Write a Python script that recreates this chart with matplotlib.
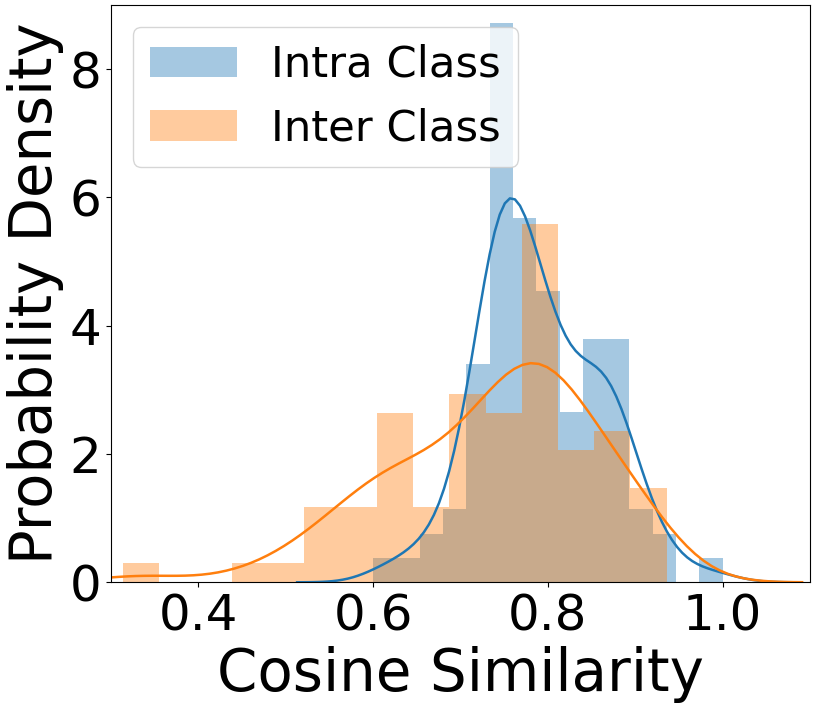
import numpy as np
import matplotlib
matplotlib.use("Agg")
import matplotlib.pyplot as plt

# ---- data ----
intra_range = (0.600, 1.000)           # histogram range of the intra-class similarities
intra_counts = [1, 1, 2, 3, 9, 23, 15, 12, 7, 10, 10, 3, 2, 0, 1]
inter_range = (0.314, 0.936)           # histogram range of the inter-class similarities
inter_counts = [1, 0, 0, 1, 1, 4, 4, 9, 4, 10, 9, 19, 7, 8, 5]
series_labels = ["Intra Class", "Inter Class"]
x_ticks = [0.4, 0.6, 0.8, 1.0]
y_ticks = [0, 2, 4, 6, 8]


def kde_curve(centers, counts, lo, hi, gridsize=100, cut=3):
    w = np.asarray(counts, float)
    n = w.sum()
    mean = np.sum(w * centers) / n
    var = np.sum(w * (centers - mean) ** 2) / (n - 1)
    width = centers[1] - centers[0]
    std = np.sqrt(var + width ** 2 / 12.0)
    bw = 1.059 * std * n ** (-0.2)
    grid = np.linspace(lo - cut * bw, hi + cut * bw, gridsize)
    dens = np.zeros_like(grid)
    for c, k in zip(centers, w):
        dens += k * np.exp(-0.5 * ((grid - c) / bw) ** 2)
    dens /= n * bw * np.sqrt(2 * np.pi)
    return grid, dens


fig = plt.figure(figsize=(8.14, 7.12), dpi=100)
ax = fig.add_axes([111 / 814, 1 - 582.3 / 712, (810 - 111) / 814, (582.3 - 5) / 712])

for (lo, hi), counts, color, label in [
    (intra_range, intra_counts, "C0", series_labels[0]),
    (inter_range, inter_counts, "C1", series_labels[1]),
]:
    edges = np.linspace(lo, hi, len(counts) + 1)
    centers = 0.5 * (edges[:-1] + edges[1:])
    ax.hist(centers, bins=edges, weights=counts, density=True,
            color=color, alpha=0.4, label=label)
    gx, gy = kde_curve(centers, counts, lo, hi)
    ax.plot(gx, gy, color=color, lw=1.8)

ax.set_xlim(0.3, 1.1)
ax.set_ylim(0, 9.0)
ax.set_xticks(x_ticks)
ax.set_yticks(y_ticks)
ax.tick_params(labelsize=36)
ax.set_xlabel("Cosine Similarity", fontsize=41.7)
ax.set_ylabel("Probability Density", fontsize=41.5)
ax.legend(loc="upper left", fontsize=31.2)

fig.savefig("out.png", dpi=100)
